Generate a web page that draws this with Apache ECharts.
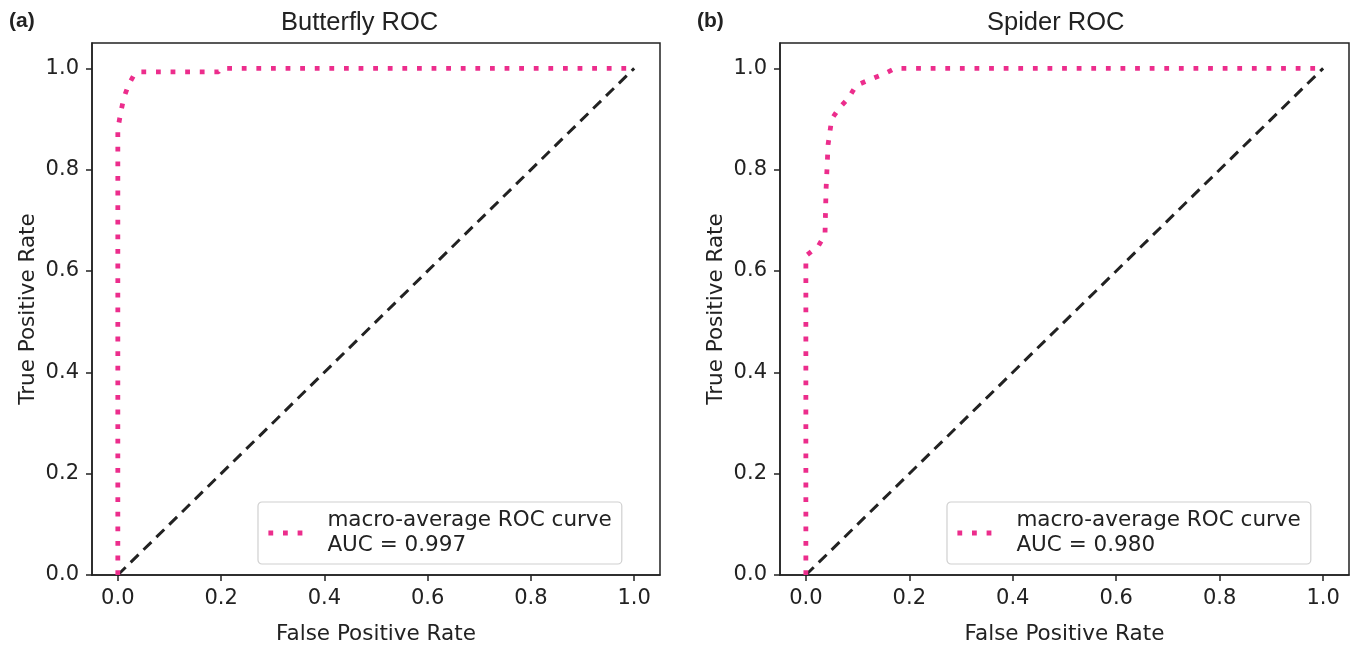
<!DOCTYPE html>
<html>
<head>
<meta charset="utf-8">
<script src="https://cdn.jsdelivr.net/npm/echarts@6/dist/echarts.min.js"></script>
<style>
  html, body { margin: 0; padding: 0; background: #fff; }
  #main { width: 1354px; height: 646px; }
</style>
</head>
<body>
<div id="main"></div>
<script>
// 数据：ROC 曲线上的点 [FPR, TPR]
var butterflyRoc = [[0, 0], [0, 0.88], [0.006, 0.915], [0.012, 0.943], [0.021, 0.968], [0.032, 0.988], [0.045, 0.993], [0.195, 0.993], [0.2, 1.0], [1, 1]];
var spiderRoc = [[0, 0], [0, 0.63], [0.024, 0.649], [0.037, 0.672], [0.039, 0.76], [0.043, 0.85], [0.05, 0.9], [0.064, 0.921], [0.083, 0.942], [0.097, 0.966], [0.122, 0.977], [0.149, 0.988], [0.173, 1.0], [1, 1]];
var chanceLine = [[0, 0], [1, 1]];
var tickValues = [0, 0.2, 0.4, 0.6, 0.8, 1.0];
var panelTitles = ['Butterfly ROC', 'Spider ROC'];
var panelTags = ['(a)', '(b)'];
var aucNames = ['macro-average ROC curve\nAUC = 0.997', 'macro-average ROC curve\nAUC = 0.980'];

var chart = echarts.init(document.getElementById('main'));

var pink = '#ec2d8c';
var font = 'DejaVu Sans';

function xAxisFor(i) {
  return {
    type: 'value', gridIndex: i, min: -0.05, max: 1.05,
    name: 'False Positive Rate', nameLocation: 'middle', nameGap: 48,
    nameTextStyle: { fontFamily: font, fontSize: 21.5, color: '#222' },
    axisLine: { show: true, onZero: false, lineStyle: { color: '#222', width: 1.5 } },
    axisTick: { show: true, length: 6, customValues: tickValues, lineStyle: { color: '#222', width: 1.5 } },
    axisLabel: { customValues: tickValues, margin: 13, fontFamily: font, fontSize: 21, color: '#222',
      formatter: function (v) { return v.toFixed(1); } },
    splitLine: { show: false }
  };
}
function yAxisFor(i) {
  return {
    type: 'value', gridIndex: i, min: 0, max: 1.05,
    name: 'True Positive Rate', nameLocation: 'middle', nameGap: 53, nameRotate: 90,
    nameTextStyle: { fontFamily: font, fontSize: 21.5, color: '#222' },
    axisLine: { show: true, onZero: false, lineStyle: { color: '#222', width: 1.5 } },
    axisTick: { show: true, length: 6, customValues: tickValues, lineStyle: { color: '#222', width: 1.5 } },
    axisLabel: { customValues: tickValues, margin: 13, fontFamily: font, fontSize: 21, color: '#222',
      formatter: function (v) { return v.toFixed(1); } },
    splitLine: { show: false }
  };
}
function legendFor(i, left) {
  return {
    data: [aucNames[i]], left: left, top: 502, orient: 'vertical',
    backgroundColor: '#fff', borderColor: '#d0d0d0', borderWidth: 1.2, borderRadius: 4,
    padding: [6, 10, 6, 8], itemWidth: 43, itemHeight: 10,
    itemStyle: { opacity: 0 },
    lineStyle: { color: pink, width: 4.8, type: [4.8, 9.8] },
    textStyle: { fontFamily: font, fontSize: 21.5, color: '#222', lineHeight: 25, padding: [0, 0, 0, 11] }
  };
}

var option = {
  backgroundColor: '#fff',
  animation: false,
  title: [
    { text: panelTitles[0], left: 276, top: 5, textStyle: { fontFamily: 'Liberation Sans', fontSize: 25.5, fontWeight: 'normal', color: '#222' } },
    { text: panelTitles[1], left: 982, top: 5, textStyle: { fontFamily: 'Liberation Sans', fontSize: 25.5, fontWeight: 'normal', color: '#222' } },
    { text: panelTags[0], left: 4, top: 6, textStyle: { fontFamily: 'Liberation Sans', fontSize: 21, fontWeight: 'bold', color: '#222' } },
    { text: panelTags[1], left: 692, top: 6, textStyle: { fontFamily: 'Liberation Sans', fontSize: 21, fontWeight: 'bold', color: '#222' } }
  ],
  grid: [
    { left: 92, top: 43, width: 568, height: 532, show: true, borderColor: '#222', borderWidth: 1.5, outerBoundsMode: 'none' },
    { left: 780, top: 43, width: 569, height: 532, show: true, borderColor: '#222', borderWidth: 1.5, outerBoundsMode: 'none' }
  ],
  legend: [legendFor(0, 258), legendFor(1, 947)],
  xAxis: [xAxisFor(0), xAxisFor(1)],
  yAxis: [yAxisFor(0), yAxisFor(1)],
  series: [
    { name: aucNames[0], type: 'line', xAxisIndex: 0, yAxisIndex: 0, data: butterflyRoc,
      showSymbol: false, symbol: 'none', smooth: false, z: 3,
      lineStyle: { color: pink, width: 4.8, type: [4.8, 9.8] }, itemStyle: { color: pink } },
    { name: 'chance0', type: 'line', xAxisIndex: 0, yAxisIndex: 0, data: chanceLine,
      showSymbol: false, symbol: 'none', z: 2,
      lineStyle: { color: '#222', width: 3, type: [11, 7] } },
    { name: aucNames[1], type: 'line', xAxisIndex: 1, yAxisIndex: 1, data: spiderRoc,
      showSymbol: false, symbol: 'none', smooth: false, z: 3,
      lineStyle: { color: pink, width: 4.8, type: [4.8, 9.8] }, itemStyle: { color: pink } },
    { name: 'chance1', type: 'line', xAxisIndex: 1, yAxisIndex: 1, data: chanceLine,
      showSymbol: false, symbol: 'none', z: 2,
      lineStyle: { color: '#222', width: 3, type: [11, 7] } }
  ]
};

chart.setOption(option);
</script>
</body>
</html>
